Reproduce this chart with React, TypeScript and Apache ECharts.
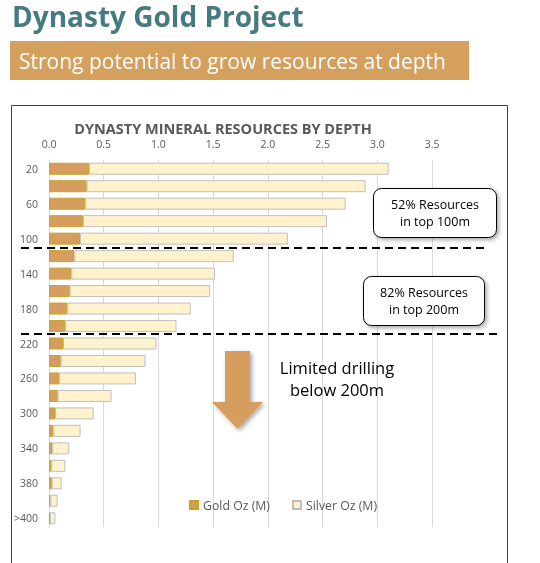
import React, { useEffect, useRef } from "react";
import * as echarts from "echarts";

const depths = ["20","40","60","80","100","120","140","160","180","200","220","240","260","280","300","320","340","360","380","400",">400"];
const goldOz = [0.365,0.344,0.331,0.31,0.283,0.231,0.204,0.189,0.167,0.149,0.128,0.107,0.094,0.079,0.055,0.039,0.03,0.021,0.025,0.012,0.008];
const silverOz = [2.74,2.55,2.38,2.23,1.9,1.457,1.313,1.283,1.129,1.016,0.854,0.775,0.7,0.493,0.353,0.25,0.155,0.128,0.091,0.067,0.05];
const xTicks = [0, 0.5, 1, 1.5, 2, 2.5, 3, 3.5];

const FONT = "'Open Sans', sans-serif";
const GREY = "#595959";

export default function App() {
  const ref = useRef<HTMLDivElement>(null);
  useEffect(() => {
    if (!ref.current) return;
    const chart = echarts.init(ref.current, null, { renderer: "svg" });
    const shadow = { shadowBlur: 4, shadowColor: "rgba(0,0,0,0.35)", shadowOffsetX: 2, shadowOffsetY: 2 };
    chart.setOption({
      animation: false,
      textStyle: { fontFamily: FONT },
      grid: { left: 49, right: 108, top: 160, bottom: 36, containLabel: false },
      legend: {
        data: ["Gold Oz (M)", "Silver Oz (M)"],
        left: 184, top: 494,
        icon: "rect", itemWidth: 8, itemHeight: 8, itemGap: 22,
        textStyle: { color: GREY, fontSize: 12.3, fontFamily: FONT },
      },
      xAxis: {
        type: "value", position: "top",
        min: xTicks[0], max: xTicks[xTicks.length - 1], interval: 0.5,
        axisLabel: { color: GREY, fontSize: 10.5, margin: 11, formatter: (v: number) => v.toFixed(1) },
        axisLine: { show: false }, axisTick: { show: false },
        splitLine: { lineStyle: { color: "#d9d9d9", width: 1 } },
      },
      yAxis: {
        type: "category", inverse: true, data: depths,
        axisLabel: { color: GREY, fontSize: 10.5, interval: 1, margin: 11 },
        axisLine: { show: true, lineStyle: { color: "#d9d9d9" } },
        axisTick: { show: false },
      },
      series: [
        { name: "Gold Oz (M)", type: "bar", stack: "t", data: goldOz, barWidth: 12,
          itemStyle: { color: "#D59E5E", borderColor: "#C9A227", borderWidth: 1 } },
        { name: "Silver Oz (M)", type: "bar", stack: "t", data: silverOz, barWidth: 12,
          itemStyle: { color: "#FFF2CC", borderColor: "#BFBFBF", borderWidth: 1 } },
      ],
      graphic: [
        { type: "text", x: 12, y: 16, style: { text: "Dynasty Gold Project", fill: "#457A80", font: `bold 28px ${FONT}`, lineHeight: 28, textVerticalAlign: "middle" } },
        { type: "rect", shape: { x: 10, y: 41, width: 459, height: 39 }, style: { fill: "#D5A05E" } },
        { type: "text", x: 19, y: 61, style: { text: "Strong potential to grow resources at depth", fill: "#ffffff", font: `21px ${FONT}`, textVerticalAlign: "middle" } },
        { type: "rect", z: -1, shape: { x: 11.5, y: 105.5, width: 496, height: 480 }, style: { fill: "#fff", stroke: "#404040", lineWidth: 1 } },
        { type: "text", x: 223, y: 128, style: { text: "DYNASTY MINERAL RESOURCES BY DEPTH", fill: GREY, font: `bold 14.5px ${FONT}`, textAlign: "center", textVerticalAlign: "middle" } },
        { type: "line", z: 10, shape: { x1: 21, y1: 248, x2: 487, y2: 248 }, style: { stroke: "#000", lineWidth: 2, lineDash: [8, 5] } },
        { type: "line", z: 10, shape: { x1: 21, y1: 334, x2: 497, y2: 334 }, style: { stroke: "#000", lineWidth: 2, lineDash: [8, 5] } },
        { type: "rect", z: 10, shape: { x: 373.5, y: 188.5, width: 123, height: 49, r: 8 }, style: { fill: "#fff", stroke: "#000", lineWidth: 1, ...shadow } },
        { type: "text", z: 11, x: 435, y: 213, style: { text: "52% Resources\nin top 100m", fill: "#000", font: `12.5px ${FONT}`, lineHeight: 17, textAlign: "center", textVerticalAlign: "middle" } },
        { type: "rect", z: 10, shape: { x: 363.5, y: 276.5, width: 121, height: 49, r: 8 }, style: { fill: "#fff", stroke: "#000", lineWidth: 1, ...shadow } },
        { type: "text", z: 11, x: 424, y: 301, style: { text: "82% Resources\nin top 200m", fill: "#000", font: `12.5px ${FONT}`, lineHeight: 17, textAlign: "center", textVerticalAlign: "middle" } },
        { type: "polygon", z: 10, shape: { points: [[225, 351], [250, 351], [250, 402], [263, 402], [237.5, 429], [212, 402], [225, 402]] }, style: { fill: "#D59E5E", ...shadow } },
        { type: "text", z: 11, x: 337, y: 378, style: { text: "Limited drilling\nbelow 200m", fill: "#000", font: `16.5px ${FONT}`, lineHeight: 22, textAlign: "center", textVerticalAlign: "middle" } },
      ],
    });
    return () => chart.dispose();
  }, []);
  return <div ref={ref} style={{ position: "fixed", left: 0, top: 0, width: 540, height: 563 }} />;
}
